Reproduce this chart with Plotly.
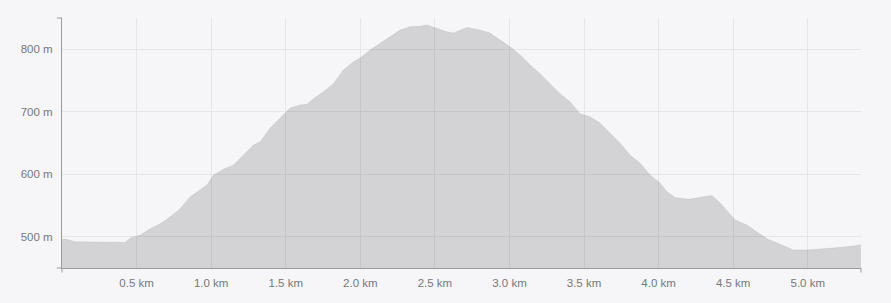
import plotly.graph_objects as go

distance_km = [0, 0.03, 0.056, 0.09, 0.123, 0.19, 0.257, 0.324, 0.39, 0.424, 0.458, 0.525,
               0.592, 0.659, 0.726, 0.793, 0.86, 0.927, 0.972, 1.016, 1.083, 1.15, 1.217,
               1.284, 1.329, 1.396, 1.463, 1.53, 1.597, 1.642, 1.686, 1.753, 1.82, 1.887,
               1.954, 2.0, 2.066, 2.133, 2.2, 2.267, 2.334, 2.401, 2.446, 2.513, 2.58,
               2.625, 2.67, 2.714, 2.803, 2.87, 2.937, 3.004, 3.071, 3.138, 3.205, 3.272,
               3.339, 3.406, 3.473, 3.54, 3.607, 3.674, 3.741, 3.808, 3.875, 3.942, 4.009,
               4.055, 4.111, 4.2, 4.278, 4.357, 4.413, 4.468, 4.513, 4.591, 4.658, 4.725,
               4.814, 4.903, 4.993, 5.082, 5.171, 5.261, 5.35, 5.357]
elevation_m = [496, 496, 494, 492, 492, 492, 491, 492, 491, 491, 498, 503,
               513, 521, 532, 545, 564, 576, 583, 599, 608, 615, 631,
               647, 652, 674, 690, 706, 711, 712, 721, 732, 745, 767,
               780, 786, 799, 810, 820, 831, 836, 837, 839, 834, 828,
               826, 831, 835, 831, 826, 815, 804, 791, 775, 761, 745,
               729, 716, 697, 692, 682, 666, 650, 631, 618, 599, 586,
               572, 563, 560, 563, 566, 554, 540, 527, 519, 508, 497,
               488, 479, 479, 480, 482, 484, 487, 487]

x_tick_vals = [0.5, 1.0, 1.5, 2.0, 2.5, 3.0, 3.5, 4.0, 4.5, 5.0]
x_tick_text = ["0.5 km", "1.0 km", "1.5 km", "2.0 km", "2.5 km", "3.0 km", "3.5 km",
               "4.0 km", "4.5 km", "5.0 km"]
y_tick_vals = [500, 600, 700, 800]
y_tick_text = ["500 m", "600 m", "700 m", "800 m"]

BG = "#f6f6f8"
AXIS = "#9a9a9c"
TXT = "#77777a"

fig = go.Figure()
fig.add_trace(go.Scatter(
    x=distance_km, y=elevation_m, mode="lines", fill="tozeroy",
    fillcolor="rgba(0,0,0,0.14)", line=dict(color="rgba(0,0,0,0.14)", width=0.5),
    hoverinfo="skip", showlegend=False))

fig.update_layout(
    width=891, height=303,
    margin=dict(l=62, r=30, t=18, b=35),
    paper_bgcolor=BG, plot_bgcolor=BG,
    font=dict(family="Liberation Sans, Arial, sans-serif", size=11.5, color=TXT),
    xaxis=dict(range=[0, max(distance_km)], tickvals=x_tick_vals, ticktext=x_tick_text,
               showgrid=True, gridcolor="#e6e6e8", gridwidth=1, zeroline=False,
               showline=True, linecolor=AXIS, linewidth=1,
               ticks="outside", ticklen=4, tickcolor="rgba(0,0,0,0)", fixedrange=True),
    yaxis=dict(range=[450, 850], tickvals=y_tick_vals, ticktext=y_tick_text,
               showgrid=True, gridcolor="#e6e6e8", gridwidth=1, zeroline=False,
               showline=True, linecolor=AXIS, linewidth=1,
               ticks="outside", ticklen=6, tickcolor="rgba(0,0,0,0)", fixedrange=True),
)

# outer axis ticks (domain ends)
tick_style = dict(color=AXIS, width=1)
fig.add_shape(type="line", xref="paper", yref="paper", x0=0, x1=0, y0=0, y1=-0.018, line=tick_style)
fig.add_shape(type="line", xref="paper", yref="paper", x0=1, x1=1, y0=0, y1=-0.018, line=tick_style)
fig.add_shape(type="line", xref="paper", yref="paper", x0=0, x1=-0.0065, y0=0, y1=0, line=tick_style)
fig.add_shape(type="line", xref="paper", yref="paper", x0=0, x1=-0.0065, y0=1, y1=1, line=tick_style)

fig.write_html("out.html")
